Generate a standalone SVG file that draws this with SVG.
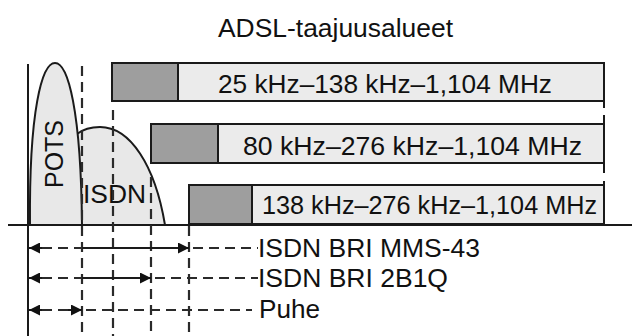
<svg xmlns="http://www.w3.org/2000/svg" width="632" height="336" viewBox="0 0 632 336">
<style>
text{font-family:"Liberation Sans",Arial,sans-serif;font-size:25px;fill:#111}
.ax{stroke:#1a1a1a;stroke-width:2;fill:none}
.ds{stroke:#2a2a2a;stroke-width:2.2;stroke-dasharray:10 6;fill:none}
.sl{stroke:#1a1a1a;stroke-width:2;fill:none}
.dk{fill:#9e9e9e;stroke:#1a1a1a;stroke-width:2}
.lt{fill:#ebebeb;stroke:#1a1a1a;stroke-width:2}
.hump{fill:#e8e8e8;stroke:#1a1a1a;stroke-width:2}
</style>
<defs>
<marker id="ah" viewBox="0 0 10 10" refX="10" refY="5" markerWidth="13" markerHeight="11" markerUnits="userSpaceOnUse" orient="auto-start-reverse">
<path d="M0,0 L10,5 L0,10 Z" fill="#111"/>
</marker>
</defs>
<rect width="632" height="336" fill="#fff"/>
<text id="title" x="218" y="37" textLength="235" lengthAdjust="spacingAndGlyphs">ADSL-taajuusalueet</text>

<g id="isdn-hump">
<path class="hump" d="M77,134 Q86,127 100,127 C130,127 155,165 165,225 L80,225 Z"/>
<text x="83" y="203" textLength="63" lengthAdjust="spacingAndGlyphs">ISDN</text>
</g>
<g id="pots-hump">
<path class="hump" d="M30,225 C29,110 42,63 55,63 C68,63 81,110 82,225 Z"/>
<text transform="translate(63,154) rotate(-90)" x="0" y="0" text-anchor="middle" textLength="68" lengthAdjust="spacingAndGlyphs">POTS</text>
</g>

<g id="bar1">
<rect class="lt" x="112" y="63" width="492" height="38"/>
<rect class="dk" x="112" y="63" width="66" height="38"/>
<line class="sl" x1="604" y1="101" x2="604" y2="108"/>
<text x="218" y="93" textLength="334" lengthAdjust="spacingAndGlyphs">25 kHz–138 kHz–1,104 MHz</text>
</g>
<g id="bar2">
<rect class="lt" x="151" y="124" width="453" height="39"/>
<rect class="dk" x="151" y="124" width="67" height="39"/>
<line class="sl" x1="604" y1="115" x2="604" y2="124"/>
<line class="sl" x1="604" y1="163" x2="604" y2="173"/>
<text x="243" y="155" textLength="339" lengthAdjust="spacingAndGlyphs">80 kHz–276 kHz–1,104 MHz</text>
</g>
<g id="bar3">
<rect class="lt" x="189" y="185" width="415" height="39"/>
<rect class="dk" x="189" y="185" width="63" height="39"/>
<line class="sl" x1="604" y1="181" x2="604" y2="185"/>
<text x="262" y="214" textLength="335" lengthAdjust="spacingAndGlyphs">138 kHz–276 kHz–1,104 MHz</text>
</g>

<g id="connectors">
<line class="ax" x1="28" y1="64" x2="28" y2="336"/>
<line class="ax" x1="8" y1="225" x2="632" y2="225"/>
<line class="ds" x1="82" y1="66" x2="82" y2="336"/>
<line class="ds" x1="113" y1="110" x2="113" y2="336"/>
<line class="ds" x1="151" y1="177" x2="151" y2="336"/>
<line class="ds" x1="189" y1="226" x2="189" y2="336"/>

<line class="ds" x1="42" y1="248" x2="82" y2="248"/>
<line class="sl" x1="29" y1="248" x2="42" y2="248" marker-start="url(#ah)"/>
<line class="sl" x1="82" y1="248" x2="189" y2="248" marker-end="url(#ah)"/>
<line class="ds" x1="193" y1="248" x2="258" y2="248"/>

<line class="ds" x1="42" y1="278" x2="82" y2="278"/>
<line class="sl" x1="29" y1="278" x2="42" y2="278" marker-start="url(#ah)"/>
<line class="sl" x1="82" y1="278" x2="151" y2="278" marker-end="url(#ah)"/>
<line class="ds" x1="155" y1="278" x2="258" y2="278"/>

<line class="ds" x1="42" y1="310" x2="68" y2="310"/>
<line class="sl" x1="29" y1="310" x2="42" y2="310" marker-start="url(#ah)"/>
<line class="sl" x1="68" y1="310" x2="82" y2="310" marker-end="url(#ah)"/>
<line class="ds" x1="86" y1="310" x2="252" y2="310"/>
</g>

<g id="labels">
<text x="258" y="257" textLength="222" lengthAdjust="spacingAndGlyphs">ISDN BRI MMS-43</text>
<text x="258" y="287" textLength="190" lengthAdjust="spacingAndGlyphs">ISDN BRI 2B1Q</text>
<text x="259" y="318" textLength="61" lengthAdjust="spacingAndGlyphs">Puhe</text>
</g>
</svg>
